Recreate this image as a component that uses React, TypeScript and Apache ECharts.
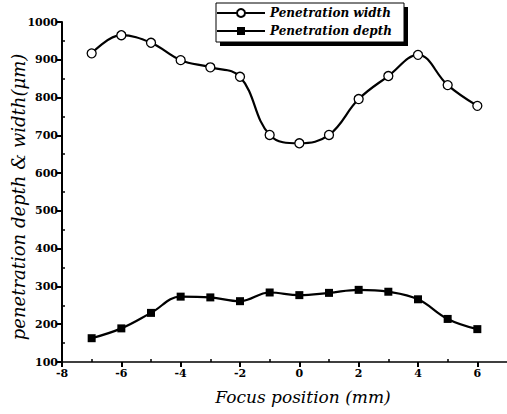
import React, { useEffect, useRef } from "react";
import * as echarts from "echarts";

const focusPositions = [-7, -6, -5, -4, -3, -2, -1, 0, 1, 2, 3, 4, 5, 6];
const penetrationWidth = [917, 965, 945, 899, 880, 855, 701, 679, 701, 796, 857, 913, 833, 778];
const penetrationDepth = [163, 189, 230, 273, 271, 261, 284, 277, 283, 291, 286, 266, 214, 187];
const xMinorTicks = [-7, -5, -3, -1, 1, 3, 5];
const yMinorTicks = [150, 250, 350, 450, 550, 650, 750, 850, 950];

const SERIF = "'DejaVu Serif', 'Liberation Serif', serif";

export default function App() {
  const ref = useRef<HTMLDivElement>(null);
  useEffect(() => {
    if (!ref.current) return;
    const chart = echarts.init(ref.current, null, { renderer: "svg" });
    const widthData = focusPositions.map((x, i) => [x, penetrationWidth[i]]);
    const depthData = focusPositions.map((x, i) => [x, penetrationDepth[i]]);
    const axisLabelStyle = {
      color: "#000",
      fontFamily: SERIF,
      fontWeight: "bold" as const,
      fontSize: 11,
      formatter: (v: number) => String(v),
    };
    chart.setOption({
      animation: false,
      backgroundColor: "#fff",
      grid: { left: 62, right: 0, top: 22, bottom: 52 },
      xAxis: [
        {
          type: "value",
          min: -8,
          max: 7,
          interval: 2,
          axisLine: { show: true, onZero: false, lineStyle: { color: "#000", width: 1.5 } },
          axisTick: { show: true, inside: false, length: 5, lineStyle: { color: "#000", width: 2 } },
          axisLabel: { ...axisLabelStyle, margin: 6, showMaxLabel: false },
          splitLine: { show: false },
        },
        {
          type: "value",
          min: -8,
          max: 7,
          position: "bottom",
          axisLine: { show: false, onZero: false },
          axisTick: { show: true, inside: true, length: 3, customValues: xMinorTicks, lineStyle: { color: "#000", width: 1.5 } },
          axisLabel: { show: false },
          splitLine: { show: false },
        },
      ],
      yAxis: [
        {
          type: "value",
          min: 100,
          max: 1000,
          interval: 100,
          axisLine: { show: true, onZero: false, lineStyle: { color: "#000", width: 2 } },
          axisTick: { show: true, inside: false, length: 5, lineStyle: { color: "#000", width: 2 } },
          axisLabel: { ...axisLabelStyle, margin: 4 },
          splitLine: { show: false },
        },
        {
          type: "value",
          min: 100,
          max: 1000,
          position: "left",
          axisLine: { show: false, onZero: false },
          axisTick: { show: true, inside: true, length: 3, customValues: yMinorTicks, lineStyle: { color: "#000", width: 1.5 } },
          axisLabel: { show: false },
          splitLine: { show: false },
        },
      ],
      legend: {
        orient: "vertical",
        left: 216,
        top: 7,
        z: 10,
        padding: 0,
        itemGap: 6,
        itemWidth: 48,
        itemHeight: 10,
        textStyle: { color: "#000", fontFamily: SERIF, fontStyle: "italic", fontWeight: "bold", fontSize: 12 },
        data: ["Penetration width", "Penetration depth"],
      },
      graphic: [
        { type: "rect", z: 1, shape: { x: 220, y: 7, width: 188, height: 39 }, style: { fill: "#000" } },
        { type: "rect", z: 2, shape: { x: 216, y: 3, width: 188, height: 39 }, style: { fill: "#fff", stroke: "#000", lineWidth: 1 } },
        {
          type: "text",
          x: 303,
          y: 397,
          style: { text: "Focus position (mm)", font: `italic 17px ${SERIF}`, fill: "#000", align: "center", verticalAlign: "middle" },
        },
        {
          type: "text",
          x: 18,
          y: 197,
          rotation: Math.PI / 2,
          style: { text: "penetration depth & width(μm)", font: `italic 18px ${SERIF}`, fill: "#000", align: "center", verticalAlign: "middle" },
        },
      ],
      series: [
        {
          name: "Penetration width",
          type: "line",
          data: widthData,
          smooth: 0.4,
          symbol: "circle",
          symbolSize: 9,
          itemStyle: { color: "#fff", borderColor: "#000", borderWidth: 1.3 },
          lineStyle: { color: "#000", width: 2.2 },
          z: 3,
        },
        {
          name: "Penetration depth",
          type: "line",
          data: depthData,
          smooth: 0.4,
          symbol: "rect",
          symbolSize: 8,
          itemStyle: { color: "#000" },
          lineStyle: { color: "#000", width: 2.2 },
          z: 3,
        },
      ],
    });
    return () => chart.dispose();
  }, []);
  return <div ref={ref} style={{ position: "fixed", left: 0, top: 0, width: 507, height: 414 }} />;
}
